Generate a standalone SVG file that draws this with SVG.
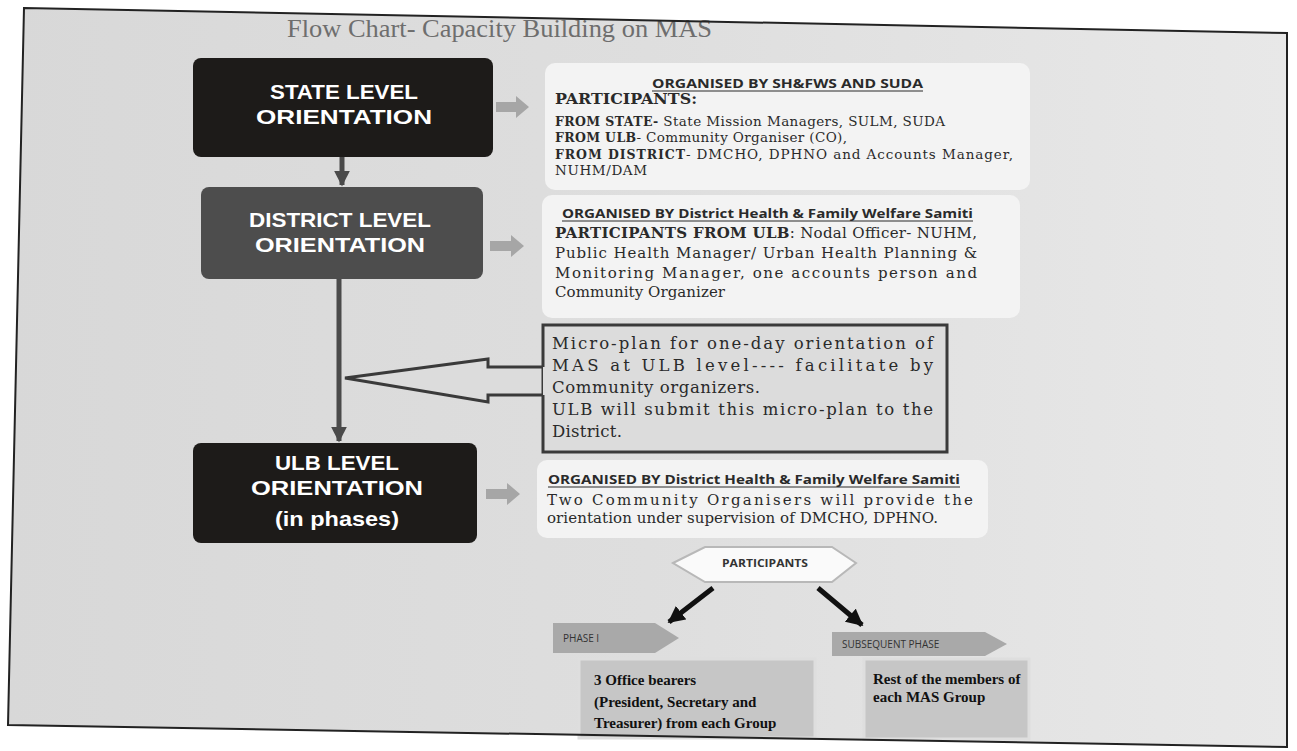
<svg xmlns="http://www.w3.org/2000/svg" width="1297" height="751" viewBox="0 0 1297 751">
<defs>
<linearGradient id="bg" x1="0" y1="0" x2="1" y2="0">
<stop offset="0" stop-color="#d8d8d8"/>
<stop offset="0.5" stop-color="#dedede"/>
<stop offset="1" stop-color="#e8e8e8"/>
</linearGradient>
<marker id="ahGray" viewBox="0 0 10 10" refX="9" refY="5" markerWidth="3.2" markerHeight="3.2" orient="auto" markerUnits="strokeWidth">
<path d="M0,0 L10,5 L0,10 Z" fill="#4a4a4a"/>
</marker>
<marker id="ahBlack" viewBox="0 0 10 10" refX="9" refY="5" markerWidth="3.4" markerHeight="3.4" orient="auto" markerUnits="strokeWidth">
<path d="M0,0 L10,5 L0,10 Z" fill="#111"/>
</marker>
<style>
.lvl{font-family:"Liberation Sans",Arial,sans-serif;font-weight:700;fill:#fff;text-anchor:middle;font-size:21px;}
.panel{fill:#f3f3f3;}
.hdr{font-family:"Open Sans","DejaVu Sans",sans-serif;font-weight:700;font-size:13px;fill:#2a2a2a;}
.ul{stroke:#2a2a2a;stroke-width:1.2;}
.body{font-family:"DejaVu Serif","Liberation Serif",serif;fill:#2a2a2a;}
.b{font-weight:700;}
.blk{fill:#a6a6a6;}
.ph{font-family:"Open Sans","DejaVu Sans",sans-serif;font-size:10px;fill:#333;}
.pbox{fill:#c6c6c6;stroke:#dedede;stroke-width:3;}
.ptxt{font-family:"Liberation Serif","Times New Roman",serif;font-weight:700;font-size:15px;fill:#111;}
</style>
</defs>
<rect x="0" y="0" width="1297" height="751" fill="#ffffff"/>
<polygon points="24,8 1287,33 1287,747 8,725" fill="url(#bg)"/>
<text x="287" y="37" font-family="Liberation Serif,serif" font-size="26" fill="#6e6e6e" textLength="425" lengthAdjust="spacingAndGlyphs">Flow Chart- Capacity Building on MAS</text>

<g id="connectors">
<line x1="342" y1="157" x2="342" y2="185" stroke="#4a4a4a" stroke-width="5" marker-end="url(#ahGray)"/>
<line x1="339" y1="279" x2="339" y2="441" stroke="#4a4a4a" stroke-width="5" marker-end="url(#ahGray)"/>
<polygon points="345,378 488,359 488,367 543,367 543,395 488,395 488,402" fill="#dcdcdc" stroke="#3a3a3a" stroke-width="3" stroke-linejoin="miter"/>
<polygon class="blk" points="496,102 516,102 516,96 529,107 516,118 516,112 496,112"/>
<polygon class="blk" points="490,241 511,241 511,235 524,246 511,257 511,251 490,251"/>
<polygon class="blk" points="486,489 507,489 507,483 520,494 507,505 507,499 486,499"/>
<line x1="713" y1="588" x2="669" y2="622" stroke="#111" stroke-width="5" marker-end="url(#ahBlack)"/>
<line x1="818" y1="588" x2="862" y2="625" stroke="#111" stroke-width="5" marker-end="url(#ahBlack)"/>
</g>

<g id="state">
<rect x="193" y="58" width="300" height="99" rx="8" fill="#1d1b19"/>
<text class="lvl" x="344" y="99" textLength="148" lengthAdjust="spacingAndGlyphs">STATE LEVEL</text>
<text class="lvl" x="344" y="124" textLength="176" lengthAdjust="spacingAndGlyphs">ORIENTATION</text>
</g>
<g id="district">
<rect x="201" y="187" width="282" height="92" rx="8" fill="#4d4d4d"/>
<text class="lvl" x="340" y="227" textLength="182" lengthAdjust="spacingAndGlyphs">DISTRICT LEVEL</text>
<text class="lvl" x="340" y="252" textLength="170" lengthAdjust="spacingAndGlyphs">ORIENTATION</text>
</g>
<g id="ulb">
<rect x="193" y="443" width="284" height="100" rx="8" fill="#1d1b19"/>
<text class="lvl" x="337" y="470" textLength="124" lengthAdjust="spacingAndGlyphs">ULB LEVEL</text>
<text class="lvl" x="337" y="495" textLength="172" lengthAdjust="spacingAndGlyphs">ORIENTATION</text>
<text class="lvl" x="337" y="526" font-size="19" textLength="124" lengthAdjust="spacingAndGlyphs">(in phases)</text>
</g>

<g id="state-info">
<rect class="panel" x="545" y="63" width="485" height="127" rx="10"/>
<text class="hdr" x="652" y="88" textLength="271" lengthAdjust="spacingAndGlyphs">ORGANISED BY SH&amp;FWS AND SUDA</text>
<line class="ul" x1="652" y1="91" x2="923" y2="91"/>
<text class="body b" x="555" y="104" font-size="14.5" textLength="142" lengthAdjust="spacingAndGlyphs">PARTICIPANTS:</text>
<text class="body" x="555" y="126" font-size="13.5" textLength="390" lengthAdjust="spacing"><tspan class="b" font-size="12.5">FROM STATE-</tspan> State Mission Managers, SULM, SUDA</text>
<text class="body" x="555" y="142" font-size="13.5" textLength="292" lengthAdjust="spacing"><tspan class="b" font-size="12.5">FROM ULB</tspan>- Community Organiser (CO),</text>
<text class="body" x="555" y="159" font-size="13.5" textLength="458" lengthAdjust="spacing"><tspan class="b" font-size="12.5">FROM DISTRICT</tspan>- DMCHO, DPHNO and Accounts Manager,</text>
<text class="body" x="555" y="175" font-size="13.5" textLength="92" lengthAdjust="spacing">NUHM/DAM</text>
</g>

<g id="district-info">
<rect class="panel" x="542" y="195" width="478" height="123" rx="10"/>
<text class="hdr" x="562" y="218" textLength="411" lengthAdjust="spacingAndGlyphs">ORGANISED BY District Health &amp; Family Welfare Samiti</text>
<line class="ul" x1="562" y1="221" x2="973" y2="221"/>
<text class="body" x="555" y="238" font-size="15" textLength="422" lengthAdjust="spacing"><tspan class="b">PARTICIPANTS FROM ULB</tspan>: Nodal Officer- NUHM,</text>
<text class="body" x="555" y="258" font-size="15" textLength="422" lengthAdjust="spacing">Public Health Manager/ Urban Health Planning &amp;</text>
<text class="body" x="555" y="278" font-size="15" textLength="422" lengthAdjust="spacing">Monitoring Manager, one accounts person and</text>
<text class="body" x="555" y="297" font-size="15" textLength="170" lengthAdjust="spacing">Community Organizer</text>
</g>

<g id="microplan">
<polyline points="543,367 543,325 947,325 947,452 543,452 543,395" fill="#dcdcdc" stroke="#3a3a3a" stroke-width="3"/>
<text class="body" x="552" y="349" font-size="16.5" textLength="381" lengthAdjust="spacing">Micro-plan for one-day orientation of</text>
<text class="body" x="552" y="371" font-size="16.5" textLength="381" lengthAdjust="spacing">MAS at ULB level---- facilitate by</text>
<text class="body" x="552" y="393" font-size="16.5" textLength="208" lengthAdjust="spacing">Community organizers.</text>
<text class="body" x="552" y="415" font-size="16.5" textLength="381" lengthAdjust="spacing">ULB will submit this micro-plan to the</text>
<text class="body" x="552" y="437" font-size="16.5" textLength="70" lengthAdjust="spacing">District.</text>
</g>

<g id="ulb-info">
<rect class="panel" x="537" y="460" width="451" height="78" rx="10"/>
<text class="hdr" x="548" y="484" textLength="412" lengthAdjust="spacingAndGlyphs">ORGANISED BY District Health &amp; Family Welfare Samiti</text>
<line class="ul" x1="548" y1="487" x2="960" y2="487"/>
<text class="body" x="547" y="505" font-size="15" textLength="426" lengthAdjust="spacing">Two Community Organisers will provide the</text>
<text class="body" x="547" y="523" font-size="15" textLength="391" lengthAdjust="spacing">orientation under supervision of DMCHO, DPHNO.</text>
</g>

<g id="participants">
<polygon points="673,563 705,547 832,547 856,563 832,582 705,582" fill="#fafafa" stroke="#b8b8b8" stroke-width="2"/>
<text class="ph" x="722" y="567" font-weight="700" textLength="86" lengthAdjust="spacingAndGlyphs">PARTICIPANTS</text>
</g>

<g id="phase1">
<polygon points="553,623 655,623 679,638 655,653 553,653" fill="#a9a9a9"/>
<text class="ph" x="563" y="642">PHASE I</text>
</g>
<g id="phase1-box">
<rect class="pbox" x="579" y="659" width="236" height="79"/>
<text class="ptxt" x="594" y="685">3 Office bearers</text>
<text class="ptxt" x="594" y="707">(President, Secretary and</text>
<text class="ptxt" x="594" y="728">Treasurer) from each Group</text>
</g>

<g id="subsequent">
<polygon points="832,632 985,632 1007,644 985,656 832,656" fill="#a9a9a9"/>
<text class="ph" x="842" y="648">SUBSEQUENT PHASE</text>
</g>
<g id="subsequent-box">
<rect class="pbox" x="864" y="659" width="165" height="80"/>
<text class="ptxt" x="873" y="684">Rest of the members of</text>
<text class="ptxt" x="873" y="702">each MAS Group</text>
</g>
<polygon points="24,8 1287,33 1287,747 8,725" fill="none" stroke="#222" stroke-width="2"/>
</svg>
